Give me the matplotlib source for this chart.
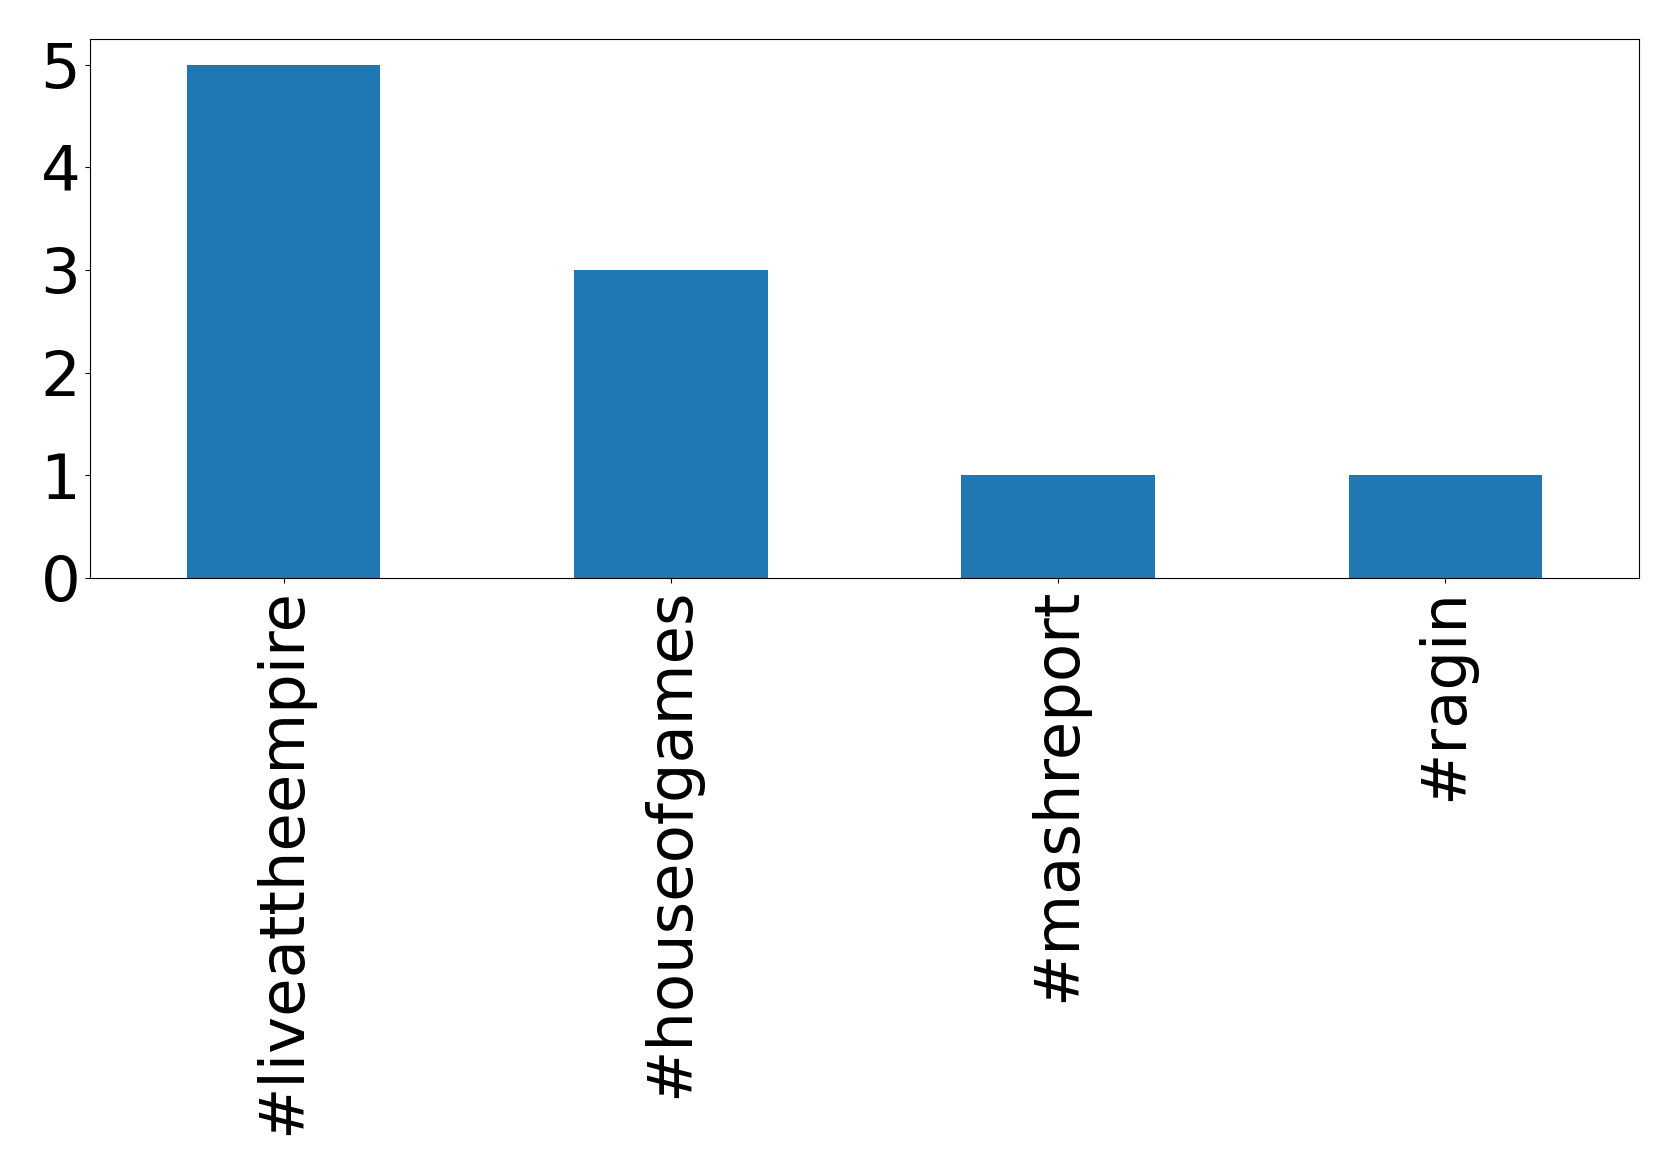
import matplotlib
matplotlib.use("Agg")
import matplotlib.pyplot as plt

categories = ["#liveattheempire", "#houseofgames", "#mashreport", "#ragin"]
counts = [5, 3, 1, 1]

fig = plt.figure(figsize=(16.79, 11.75), dpi=100)
ax = fig.add_axes([90/1679, 1 - 578/1175, (1639-90)/1679, (578-39)/1175])
x = list(range(len(categories)))
ax.bar(x, counts, width=0.5, color="#1f77b4")
ax.set_xlim(-0.5, len(categories) - 0.5)
ax.set_ylim(0, 5.25)
ax.set_xticks(x)
ax.set_xticklabels(categories, rotation=90, fontsize=45)
ax.set_yticks([0, 1, 2, 3, 4, 5])
ax.tick_params(axis="y", labelsize=45)
fig.savefig("out.png", dpi=100)
